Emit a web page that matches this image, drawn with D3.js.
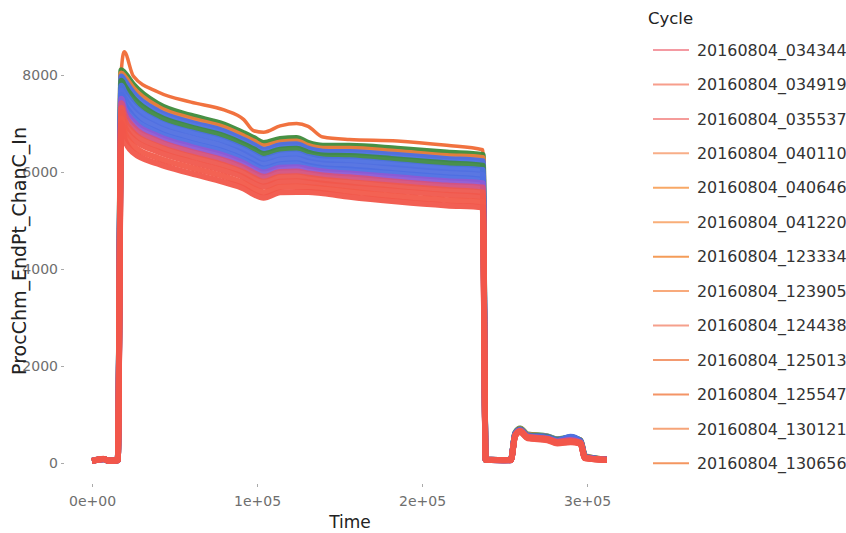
<!DOCTYPE html>
<html>
<head>
<meta charset="utf-8">
<script src="https://cdn.jsdelivr.net/npm/d3@7"></script>
<style>
body { margin:0; background:#fff; }
text { font-family:"DejaVu Sans", Verdana, sans-serif; }
</style>
</head>
<body>
<svg id="chart"></svg>
<script>
// sample times shared by every cycle
var timePts = [0, 7000, 10000, 13000, 15600, 17800, 19500, 25000, 40000, 60000, 80000, 92000, 98000, 104000,
    114000, 124000, 131000, 140000, 156000, 185000, 215000, 236800, 238600, 246000, 253800, 256500, 259500,
    264000, 276000, 282000, 290000, 296000, 298800, 312000];

// one array per drawn cycle (top of the band first)
var cOut = [40, 70, 45, 50, 55, 8100, 8480, 7980, 7650, 7440, 7280, 7080, 6850, 6820, 6950, 7000, 6940, 6720,
    6670, 6640, 6550, 6460, 60, 55, 55, 600, 690, 570, 540, 470, 520, 450, 120, 65];
var c01 = [45, 80, 50, 45, 60, 8100, 8050, 7800, 7400, 7160, 6980, 6800, 6700, 6600, 6680, 6700, 6600, 6540,
    6540, 6480, 6400, 6350, 70, 60, 60, 620, 710, 590, 550, 490, 520, 470, 140, 70];
var c02 = [40, 75, 45, 50, 55, 8030, 7970, 7720, 7330, 7090, 6910, 6730, 6630, 6530, 6610, 6630, 6540, 6480,
    6480, 6410, 6330, 6290, 65, 55, 60, 610, 700, 580, 540, 480, 510, 470, 130, 70];
var c03 = [45, 85, 50, 50, 60, 7970, 7890, 7630, 7250, 7020, 6840, 6660, 6560, 6460, 6550, 6570, 6480, 6420,
    6410, 6350, 6270, 6220, 70, 60, 55, 610, 690, 570, 540, 480, 520, 460, 130, 65];
var c04 = [40, 80, 45, 50, 60, 7880, 7780, 7520, 7150, 6920, 6740, 6570, 6470, 6370, 6460, 6480, 6400, 6340,
    6330, 6260, 6180, 6130, 65, 60, 60, 600, 690, 560, 530, 470, 530, 450, 120, 70];
var c05 = [45, 75, 50, 45, 55, 7780, 7660, 7390, 7040, 6820, 6640, 6470, 6360, 6270, 6360, 6380, 6310, 6260,
    6240, 6160, 6080, 6040, 70, 55, 60, 600, 680, 560, 520, 460, 540, 450, 120, 65];
var c06 = [40, 80, 45, 50, 60, 7680, 7540, 7270, 6930, 6710, 6530, 6370, 6260, 6170, 6260, 6280, 6220, 6170,
    6140, 6070, 5990, 5940, 65, 60, 55, 590, 670, 550, 510, 450, 530, 440, 115, 70];
var c07 = [45, 85, 50, 50, 55, 7580, 7420, 7140, 6820, 6600, 6420, 6260, 6160, 6070, 6160, 6180, 6130, 6080,
    6050, 5970, 5890, 5840, 70, 60, 60, 590, 670, 540, 510, 450, 500, 440, 115, 65];
var c08 = [40, 75, 45, 45, 60, 7510, 7320, 7040, 6740, 6520, 6340, 6180, 6070, 5990, 6090, 6100, 6060, 6010,
    5970, 5890, 5810, 5770, 65, 55, 60, 580, 670, 540, 500, 440, 480, 430, 110, 70];
var c09 = [45, 80, 50, 50, 55, 7420, 7210, 6930, 6640, 6420, 6240, 6090, 5980, 5900, 6000, 6010, 5970, 5930,
    5890, 5800, 5720, 5680, 70, 60, 55, 580, 660, 540, 500, 440, 470, 420, 110, 60];
var c10 = [40, 85, 45, 50, 60, 7320, 7090, 6810, 6530, 6320, 6140, 5990, 5880, 5800, 5900, 5910, 5880, 5840,
    5790, 5710, 5630, 5580, 65, 60, 60, 570, 660, 530, 490, 430, 450, 420, 105, 65];
var c11 = [45, 80, 50, 45, 55, 7220, 6970, 6680, 6420, 6210, 6030, 5890, 5770, 5700, 5800, 5810, 5790, 5760,
    5700, 5610, 5530, 5490, 70, 55, 60, 570, 650, 520, 490, 420, 440, 410, 100, 60];
var c12 = [40, 90, 45, 50, 60, 7110, 6840, 6540, 6290, 6090, 5910, 5770, 5660, 5580, 5690, 5700, 5690, 5660,
    5600, 5500, 5420, 5380, 65, 60, 55, 560, 650, 520, 480, 410, 440, 400, 100, 65];
var c13 = [45, 85, 50, 50, 55, 7000, 6700, 6400, 6170, 5970, 5790, 5660, 5540, 5470, 5580, 5590, 5590, 5560,
    5490, 5390, 5310, 5270, 70, 60, 60, 560, 640, 510, 470, 400, 430, 400, 95, 60];

var drawnCycles = [cOut, c01, c02, c03, c04, c05, c06, c07, c08, c09, c10, c11, c12, c13];
var drawnColors = ["#f06a35", "#3d8b3a", "#ec7d3c", "#4a6fe4", "#3f8a45", "#4d70e2", "#5170e0", "#4e6fe2",
    "#8d5ad4", "#d4527e", "#ee584f", "#f0574c", "#f25a4a", "#f1564a"];

// legend entries (first cycles only, as in the original)
var cycles = ["20160804_034344", "20160804_034919", "20160804_035537", "20160804_040110", "20160804_040646",
    "20160804_041220", "20160804_123334", "20160804_123905", "20160804_124438", "20160804_125013",
    "20160804_125547", "20160804_130121", "20160804_130656"];
var cycleColors = ["#f49aa2", "#f79e8c", "#f59c9a", "#f8ae88", "#f8a866", "#f9ae78", "#f49c58", "#f8aa7c",
    "#f5a08c", "#f39a70", "#f49466", "#f6a478", "#f49660"];

var yTicks = [0, 2000, 4000, 6000, 8000];
var xTicks = [0, 100000, 200000, 300000];
var xTickLabels = ["0e+00", "1e+05", "2e+05", "3e+05"];

var screen = {width:846, height:533};

var svg = d3.select("#chart")
    .attr("width", screen.width)
    .attr("height", screen.height);

var xScale = d3.scaleLinear()
    .domain([0, 300000])
    .range([92, 587]);

var yScale = d3.scaleLinear()
    .domain([0, 8000])
    .range([463, 75]);

var line = d3.line()
    .x(function(d, i) { return xScale(timePts[i]); })
    .y(function(d) { return yScale(d); })
    .curve(d3.curveMonotoneX);

svg.append("g")
    .classed("graph", true)
    .selectAll("path")
    .data(drawnCycles)
    .enter()
    .append("path")
    .attr("d", line)
    .attr("fill", "none")
    .attr("stroke", function(d, i) { return drawnColors[i]; })
    .attr("stroke-width", function(d, i) { return i == 0 ? 3.5 : 6; })
    .attr("stroke-linejoin", "round")
    .attr("stroke-opacity", 0.95);

// axes
var yAxis = d3.axisLeft(yScale)
    .tickValues(yTicks)
    .tickSize(3)
    .tickPadding(3)
    .tickFormat(d3.format("d"));

var xAxis = d3.axisBottom(xScale)
    .tickValues(xTicks)
    .tickSize(3)
    .tickPadding(9)
    .tickFormat(function(d, i) { return xTickLabels[i]; });

var gy = svg.append("g")
    .attr("transform", "translate(64,0)")
    .call(yAxis);

var gx = svg.append("g")
    .attr("transform", "translate(0,484)")
    .call(xAxis);

[gx, gy].forEach(function(g) {
    g.select(".domain").remove();
    g.selectAll(".tick line").attr("stroke", "#aaa");
    g.selectAll(".tick text")
        .attr("fill", "#6e6e6e")
        .style("font-size", "14px")
        .style("font-family", "DejaVu Sans");
});

// axis titles
svg.append("text")
    .attr("x", 350)
    .attr("y", 528)
    .attr("text-anchor", "middle")
    .attr("fill", "#222")
    .style("font-size", "17px")
    .text("Time");

svg.append("text")
    .attr("transform", "translate(26,251) rotate(-90)")
    .attr("text-anchor", "middle")
    .attr("fill", "#222")
    .style("font-size", "19px")
    .text("ProcChm_EndPt_ChanC_In");

// legend
var legend = svg.append("g").classed("legend", true);

legend.append("text")
    .attr("x", 648)
    .attr("y", 24)
    .attr("fill", "#222")
    .style("font-size", "16.5px")
    .text("Cycle");

var items = legend.selectAll("g.item")
    .data(cycles)
    .enter()
    .append("g")
    .classed("item", true)
    .attr("transform", function(d, i) { return "translate(0," + (50 + i * 34.44) + ")"; });

items.append("line")
    .attr("x1", 653)
    .attr("x2", 689)
    .attr("stroke", function(d, i) { return cycleColors[i]; })
    .attr("stroke-width", 2);

items.append("text")
    .attr("x", 697)
    .attr("dy", "0.36em")
    .attr("fill", "#333")
    .style("font-size", "15.9px")
    .text(function(d) { return d; });
</script>
</body>
</html>
